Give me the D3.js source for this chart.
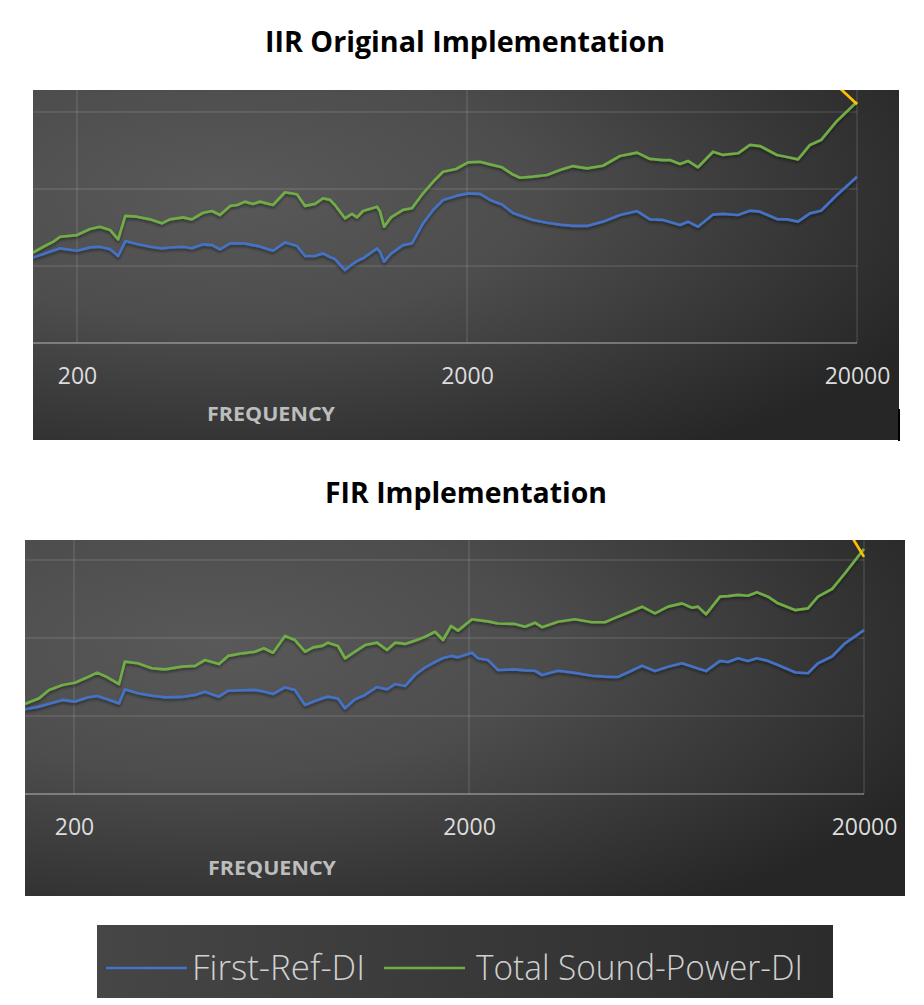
<!DOCTYPE html>
<html>
<head>
<meta charset="utf-8">
<script src="https://cdn.jsdelivr.net/npm/d3@7"></script>
<style>
  body { margin: 0; background: #fff; }
  svg { display: block; }
</style>
</head>
<body>
<svg id="chart" width="924" height="1005"></svg>
<script>
// ---- data (frequency in Hz, directivity index in dB) ----
const xTicks = [200, 2000, 20000];
const yGrid = [5, 10, 15];
const seriesNames = ["First-Ref-DI", "Total Sound-Power-DI"];
const seriesColors = ["#4472c4", "#70ad47"];
const titles = ["IIR Original Implementation", "FIR Implementation"];

const iirFreq = [154, 164, 174, 181, 200, 216, 229, 243, 255, 266,
  285, 308, 330, 346, 374, 394, 421, 444, 465, 494,
  515, 539, 565, 589, 636, 683, 733, 769, 815, 855,
  891, 917, 973, 1014, 1045, 1082, 1176, 1197, 1226, 1277,
  1371, 1445, 1543, 1637, 1736, 1874, 2012, 2160, 2291, 2459,
  2624, 2735, 2953, 3207, 3464, 3740, 4062, 4463, 4935, 5458,
  5893, 6363, 6631, 7035, 7375, 7823, 8548, 9068, 9907, 10632,
  11280, 12472, 13229, 14118, 15152, 16171, 17772, 20000];
const iirFirstRef = [5.56, 5.78, 6.01, 6.15, 5.99, 6.21, 6.25, 6.10, 5.65, 6.62,
  6.43, 6.25, 6.15, 6.20, 6.25, 6.15, 6.41, 6.36, 6.08, 6.47,
  6.47, 6.46, 6.36, 6.27, 5.99, 6.54, 6.30, 5.65, 5.65, 5.82,
  5.58, 5.45, 4.74, 5.10, 5.32, 5.50, 6.15, 5.91, 5.28, 5.81,
  6.36, 6.47, 7.77, 8.64, 9.29, 9.55, 9.72, 9.68, 9.29, 8.99,
  8.44, 8.28, 7.99, 7.81, 7.69, 7.61, 7.60, 7.88, 8.31, 8.57,
  8.03, 7.99, 7.86, 7.66, 7.88, 7.55, 8.34, 8.38, 8.31, 8.59,
  8.53, 8.05, 8.03, 7.88, 8.42, 8.59, 9.61, 10.80];
const iirTotalSP = [5.86, 6.25, 6.58, 6.90, 7.01, 7.40, 7.55, 7.34, 6.73, 8.25,
  8.20, 8.03, 7.77, 8.03, 8.16, 8.03, 8.46, 8.57, 8.31, 8.90,
  8.96, 9.18, 9.03, 9.18, 8.96, 9.79, 9.66, 8.90, 9.03, 9.40,
  9.29, 8.96, 8.10, 8.38, 8.16, 8.57, 8.85, 8.53, 7.55, 8.16,
  8.64, 8.75, 9.72, 10.47, 11.12, 11.30, 11.73, 11.77, 11.60, 11.41,
  10.94, 10.73, 10.80, 10.91, 11.23, 11.49, 11.34, 11.51, 12.14, 12.36,
  11.95, 11.88, 11.88, 11.62, 11.82, 11.41, 12.42, 12.21, 12.32, 12.86,
  12.79, 12.21, 12.08, 11.92, 12.86, 13.18, 14.42, 15.67];
// third (unlabelled) series, only its tail is visible at the top edge
const iirExtraFreq = [16171, 20000];
const iirExtra = [17.7, 15.5];

const firFreq = [150, 163, 173, 187, 201, 217, 229, 243, 260, 269,
  290, 315, 340, 375, 405, 429, 466, 491, 533, 574,
  605, 638, 684, 725, 769, 806, 849, 879, 932, 971,
  1029, 1091, 1170, 1240, 1300, 1377, 1460, 1548, 1641, 1719,
  1801, 1876, 2035, 2108, 2234, 2368, 2615, 2772, 2939, 3061,
  3360, 3711, 4097, 4419, 4767, 5172, 5483, 5915, 6381, 6923,
  7339, 7599, 7961, 8640, 9054, 9595, 10169, 10717, 11429, 12114,
  13375, 14424, 15292, 16596, 17903, 20000];
const firFirstRef = [5.43, 5.60, 5.79, 6.03, 5.92, 6.20, 6.28, 6.07, 5.81, 6.71,
  6.46, 6.31, 6.20, 6.22, 6.35, 6.56, 6.24, 6.62, 6.65, 6.67,
  6.57, 6.41, 6.84, 6.67, 5.71, 5.92, 6.13, 6.24, 6.12, 5.49,
  6.07, 6.35, 6.86, 6.71, 7.05, 6.92, 7.63, 8.12, 8.46, 8.72,
  8.85, 8.76, 9.06, 8.70, 8.59, 7.95, 7.99, 7.92, 7.90, 7.63,
  7.90, 7.76, 7.58, 7.52, 7.50, 7.92, 8.22, 7.88, 8.16, 8.38,
  8.17, 8.04, 7.88, 8.53, 8.46, 8.70, 8.53, 8.70, 8.53, 8.27,
  7.80, 7.74, 8.38, 8.81, 9.66, 10.51];
const firTotalSP = [5.77, 6.13, 6.67, 6.99, 7.13, 7.50, 7.78, 7.48, 7.05, 8.48,
  8.38, 8.06, 7.99, 8.16, 8.21, 8.59, 8.33, 8.85, 9.02, 9.12,
  9.34, 9.06, 10.13, 9.87, 9.12, 9.40, 9.49, 9.70, 9.49, 8.70,
  9.12, 9.55, 9.70, 9.23, 9.70, 9.62, 9.83, 10.08, 10.40, 9.87,
  10.77, 10.47, 11.20, 11.15, 11.07, 10.93, 10.90, 10.72, 10.98, 10.69,
  11.04, 11.20, 11.01, 11.01, 11.37, 11.73, 12.01, 11.58, 12.01, 12.22,
  11.94, 12.01, 11.52, 12.65, 12.69, 12.76, 12.71, 12.93, 12.65, 12.22,
  11.79, 11.90, 12.65, 13.14, 14.15, 15.71];
const firExtraFreq = [17903, 20000];
const firExtra = [17.2, 15.2];

// ---- drawing ----
const svg = d3.select("#chart");
const defs = svg.append("defs");

let bg = defs.append("radialGradient")
    .attr("id", "panelBg")
    .attr("cx", 0.22).attr("cy", 0.3).attr("r", 0.9);
bg.append("stop").attr("offset", 0).attr("stop-color", "#595959");
bg.append("stop").attr("offset", 0.4).attr("stop-color", "#4d4d4d");
bg.append("stop").attr("offset", 1).attr("stop-color", "#262626");

let lg = defs.append("linearGradient").attr("id", "legendBg");
lg.append("stop").attr("offset", 0).attr("stop-color", "#464646");
lg.append("stop").attr("offset", 1).attr("stop-color", "#2c2c2c");

defs.append("filter").attr("id", "shadow")
    .attr("x", -0.05).attr("y", -0.2).attr("width", 1.1).attr("height", 1.4)
  .append("feDropShadow")
    .attr("dx", 0).attr("dy", 2).attr("stdDeviation", 1.5)
    .attr("flood-color", "#000").attr("flood-opacity", 0.45);

function drawPanel(p, idx) {
    let x = d3.scaleLog().domain([200, 20000]).range(p.xRange);
    let y = d3.scaleLinear().domain([0, 15]).range(p.yRange);
    let axisY = y(0);

    svg.append("text")
        .attr("x", p.titleX).attr("y", p.titleY)
        .attr("text-anchor", "middle")
        .attr("font-family", "'Open Sans', sans-serif")
        .attr("font-weight", 700).attr("font-size", 28)
        .attr("textLength", p.titleLen).attr("lengthAdjust", "spacingAndGlyphs")
        .attr("fill", "#000")
        .text(titles[idx]);

    svg.append("rect")
        .attr("x", p.box[0]).attr("y", p.box[1])
        .attr("width", p.box[2]).attr("height", p.box[3])
        .attr("fill", "url(#panelBg)");

    defs.append("clipPath").attr("id", "clip" + idx)
      .append("rect")
        .attr("x", p.box[0]).attr("y", p.box[1])
        .attr("width", p.box[2]).attr("height", p.box[3]);

    let g = svg.append("g").attr("clip-path", "url(#clip" + idx + ")");

    // horizontal gridlines
    g.selectAll(".hgrid")
        .data(yGrid)
        .enter()
        .append("line")
        .attr("x1", p.box[0]).attr("x2", x(20000))
        .attr("y1", d => y(d)).attr("y2", d => y(d))
        .attr("stroke", "rgba(255,255,255,0.12)").attr("stroke-width", 1.5);

    // vertical gridlines
    g.selectAll(".vgrid")
        .data(xTicks)
        .enter()
        .append("line")
        .attr("x1", d => x(d)).attr("x2", d => x(d))
        .attr("y1", p.box[1]).attr("y2", axisY)
        .attr("stroke", "rgba(255,255,255,0.12)").attr("stroke-width", 1.5);

    // axis line
    g.append("line")
        .attr("x1", p.box[0]).attr("x2", x(20000))
        .attr("y1", axisY).attr("y2", axisY)
        .attr("stroke", "rgba(255,255,255,0.3)").attr("stroke-width", 2);

    let line = d3.line()
        .x(d => x(d[0]))
        .y(d => y(d[1]));

    let series = [
        {vals: p.firstRef, color: seriesColors[0]},
        {vals: p.totalSP, color: seriesColors[1]}
    ];
    g.selectAll(".series")
        .data(series)
        .enter()
        .append("path")
        .attr("d", s => line(p.freq.map((f, i) => [f, s.vals[i]])))
        .attr("fill", "none")
        .attr("stroke", s => s.color)
        .attr("stroke-width", 2.7)
        .attr("stroke-linejoin", "round")
        .attr("filter", "url(#shadow)");

    g.append("path")
        .attr("d", line(p.extraFreq.map((f, i) => [f, p.extra[i]])))
        .attr("fill", "none")
        .attr("stroke", "#ffc000")
        .attr("stroke-width", 2.7);

    // x axis labels
    let axis = d3.axisBottom(x)
        .tickValues(xTicks)
        .tickFormat(d3.format("d"))
        .tickSize(0)
        .tickPadding(25);
    let ag = svg.append("g")
        .attr("transform", "translate(0," + axisY + ")")
        .call(axis);
    ag.select(".domain").remove();
    ag.selectAll("text")
        .attr("font-family", "'Open Sans', sans-serif")
        .attr("font-size", 23)
        .attr("fill", "#dcdcdc");

    svg.append("text")
        .attr("x", p.labelX).attr("y", p.labelY)
        .attr("text-anchor", "middle")
        .attr("font-family", "'Open Sans', sans-serif")
        .attr("font-weight", 700).attr("font-size", 19)
        .attr("textLength", 128).attr("lengthAdjust", "spacingAndGlyphs")
        .attr("fill", "#bdbdbd")
        .text("FREQUENCY");
}

let panels = [
    {box: [33, 90, 866, 350], xRange: [77, 857], yRange: [343, 112],
     titleX: 465, titleY: 52, titleLen: 400, labelX: 271, labelY: 421,
     freq: iirFreq, firstRef: iirFirstRef, totalSP: iirTotalSP,
     extraFreq: iirExtraFreq, extra: iirExtra},
    {box: [25, 540, 880, 356], xRange: [74, 864], yRange: [794, 560],
     titleX: 466, titleY: 503, titleLen: 282, labelX: 272, labelY: 875,
     freq: firFreq, firstRef: firFirstRef, totalSP: firTotalSP,
     extraFreq: firExtraFreq, extra: firExtra}
];
panels.forEach(drawPanel);

// stray border from the original screenshot
svg.append("rect")
    .attr("x", 898).attr("y", 409).attr("width", 2).attr("height", 32)
    .attr("fill", "#000");

// legend
let legend = svg.append("g");
legend.append("rect")
    .attr("x", 97).attr("y", 925).attr("width", 736).attr("height", 73)
    .attr("fill", "url(#legendBg)");

let legendItems = [
    {line: [106, 187], textX: 192, textLen: 173},
    {line: [384, 465], textX: 476, textLen: 327}
];
legend.selectAll(".swatch")
    .data(legendItems)
    .enter()
    .append("line")
    .attr("x1", d => d.line[0]).attr("x2", d => d.line[1])
    .attr("y1", 968).attr("y2", 968)
    .attr("stroke", (d, i) => seriesColors[i])
    .attr("stroke-width", 2.5);
legend.selectAll(".label")
    .data(legendItems)
    .enter()
    .append("text")
    .attr("x", d => d.textX).attr("y", 980)
    .attr("font-family", "'Open Sans', sans-serif")
    .attr("font-weight", 300).attr("font-size", 34)
    .attr("textLength", d => d.textLen).attr("lengthAdjust", "spacingAndGlyphs")
    .attr("fill", "#d0d0d0")
    .text((d, i) => seriesNames[i]);
</script>
</body>
</html>
